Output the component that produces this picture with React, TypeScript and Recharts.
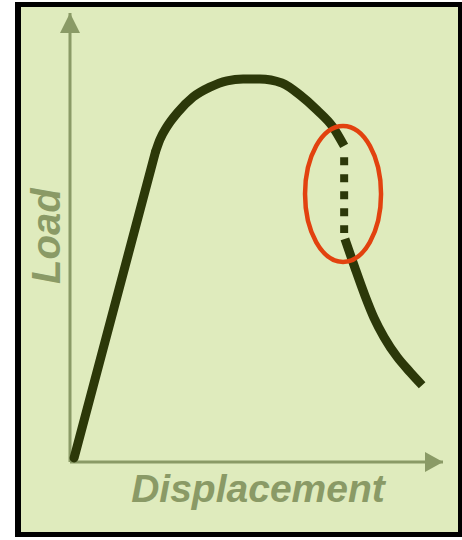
import { LineChart, Line, XAxis, YAxis, ReferenceLine, ReferenceDot } from "recharts";

// load-displacement curve (x = displacement, y = load, both 0..100)
const elasticX = [1.1, 22.9];
const elasticY = [0.9, 69.0];

const peakX = [22.9, 24.1, 26.0, 28.7, 33.0, 37.5, 42.1, 46.4, 50.9, 56.8, 61.7, 66.2, 70.5, 73.5];
const peakY = [69.0, 71.8, 74.7, 77.7, 81.3, 83.5, 84.9, 85.3, 85.3, 84.4, 81.7, 78.4, 74.6, 70.4];

const gapX = [73.5, 73.5];
const gapY = [67.9, 51.0];

const fallingX = [73.7, 76.4, 79.1, 81.5, 84.2, 87.7, 91.2, 94.4];
const fallingY = [49.7, 43.2, 37.0, 32.1, 27.8, 23.4, 20.0, 17.1];

// circled drop
const markX = 73.2;
const markY = 59.7;

const xTitle = "Displacement";
const yTitle = "Load";

const toRows = (xs: number[], ys: number[]) => xs.map((x, i) => ({ x, y: ys[i] }));

const elastic = toRows(elasticX, elasticY);
const peak = toRows(peakX, peakY);
const gap = toRows(gapX, gapY);
const falling = toRows(fallingX, fallingY);

const axisColor = "#8a9a66";
const curveColor = "#2c3809";
const font = "'Liberation Sans', Arial, sans-serif";

export default function App() {
  return (
    <div
      style={{
        position: "absolute",
        left: 15,
        top: 2,
        width: 447,
        height: 535,
        boxSizing: "border-box",
        borderStyle: "solid",
        borderColor: "#000",
        borderWidth: "5px 4px 5px 6px",
        background: "#dfebbd",
      }}
    >
      <LineChart width={437} height={525} margin={{ top: 6, right: 15, bottom: 70, left: 49 }}>
        <XAxis type="number" dataKey="x" domain={[0, 100]} hide />
        <YAxis type="number" dataKey="y" domain={[0, 100]} hide />

        <ReferenceLine segment={[{ x: 0, y: 0 }, { x: 100, y: 0 }]} stroke={axisColor} strokeWidth={3} />
        <ReferenceLine segment={[{ x: 0, y: 0 }, { x: 0, y: 100 }]} stroke={axisColor} strokeWidth={3} />
        <ReferenceDot
          x={100}
          y={0}
          shape={(p: any) => (
            <polygon points={`${p.cx},${p.cy} ${p.cx - 18},${p.cy - 10} ${p.cx - 18},${p.cy + 10}`} fill={axisColor} />
          )}
        />
        <ReferenceDot
          x={0}
          y={100}
          shape={(p: any) => (
            <polygon points={`${p.cx},${p.cy} ${p.cx - 10},${p.cy + 20} ${p.cx + 10},${p.cy + 20}`} fill={axisColor} />
          )}
        />
        <ReferenceDot
          x={50.4}
          y={0}
          shape={(p: any) => (
            <text
              x={p.cx}
              y={p.cy + 40}
              textAnchor="middle"
              fill={axisColor}
              fontFamily={font}
              fontWeight="bold"
              fontStyle="italic"
              fontSize={39}
            >
              {xTitle}
            </text>
          )}
        />
        <ReferenceDot
          x={0}
          y={50.3}
          shape={(p: any) => (
            <text
              x={p.cx - 10}
              y={p.cy}
              transform={`rotate(-90, ${p.cx - 10}, ${p.cy})`}
              textAnchor="middle"
              fill={axisColor}
              fontFamily={font}
              fontWeight="bold"
              fontStyle="italic"
              fontSize={40}
            >
              {yTitle}
            </text>
          )}
        />

        <Line data={elastic} dataKey="y" type="linear" stroke={curveColor} strokeWidth={9} strokeLinecap="round" dot={false} activeDot={false} isAnimationActive={false} />
        <Line data={peak} dataKey="y" type="monotone" stroke={curveColor} strokeWidth={9} dot={false} activeDot={false} isAnimationActive={false} />
        <Line data={gap} dataKey="y" type="linear" stroke={curveColor} strokeWidth={8} strokeDasharray="8 9" dot={false} activeDot={false} isAnimationActive={false} />
        <Line data={falling} dataKey="y" type="monotone" stroke={curveColor} strokeWidth={9} dot={false} activeDot={false} isAnimationActive={false} />

        <ReferenceDot
          x={markX}
          y={markY}
          shape={(p: any) => (
            <ellipse cx={p.cx} cy={p.cy} rx={38} ry={68} fill="none" stroke="#e2420f" strokeWidth={4.5} />
          )}
        />
      </LineChart>
    </div>
  );
}
